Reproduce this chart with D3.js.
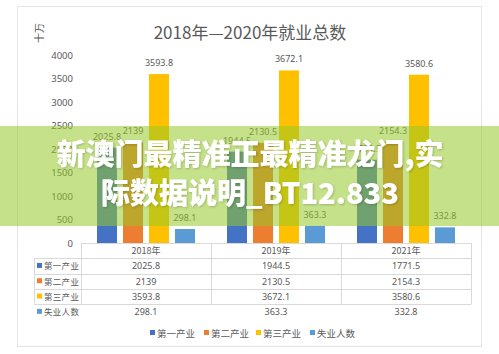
<!DOCTYPE html>
<html>
<head>
<meta charset="utf-8">
<script src="https://cdn.jsdelivr.net/npm/d3@7"></script>
<style>
  html, body { margin: 0; padding: 0; background: #fff; }
  svg { display: block; font-family: "Noto Sans CJK SC", "Noto Sans", sans-serif; }
</style>
</head>
<body>
<div id="chart"></div>
<script>
const years = ["2018年", "2019年", "2021年"];
const seriesNames = ["第一产业", "第二产业", "第三产业", "失业人数"];
const primaryInd = [2025.8, 1944.5, 1771.5];
const secondaryInd = [2139, 2130.5, 2154.3];
const tertiaryInd = [3593.8, 3672.1, 3580.6];
const unemployed = [298.1, 363.3, 332.8];
const yTicks = [0, 500, 1000, 1500, 2000, 2500, 3000, 3500, 4000];
const bannerLines = ["新澳门最精准正最精准龙门,实", "际数据说明_BT12.833"];

(() => {
    const width = 499, height = 354;
    const colors = ["#4472c4", "#ed7d31", "#ffc000", "#5b9bd5"];
    const seriesValues = [primaryInd, secondaryInd, tertiaryInd, unemployed];
    const textColor = "#595959", lineColor = "#d9d9d9";

    const svg = d3.select("#chart").append("svg")
        .attr("width", width)
        .attr("height", height);

    // chart frame
    svg.append("rect")
        .attr("x", 17.5).attr("y", 6.5)
        .attr("width", 464).attr("height", 340)
        .attr("fill", "#fff")
        .attr("stroke", "#e3e3e3");

    svg.append("text")
        .attr("x", 250).attr("y", 39)
        .attr("text-anchor", "middle")
        .style("font-size", "17px")
        .style("fill", textColor)
        .text("2018年—2020年就业总数");

    svg.append("text")
        .attr("transform", "translate(43,33) rotate(-90)")
        .attr("text-anchor", "middle")
        .style("font-size", "10px")
        .style("fill", textColor)
        .text("十万");

    const x = d3.scaleBand().domain(years).range([81, 471]).padding(0);
    const xs = d3.scaleBand().domain(seriesNames).range([0, 98]).paddingInner(0.23);
    const y = d3.scaleLinear().domain([0, 4000]).range([243, 55]);

    const yAxis = svg.append("g")
        .attr("transform", "translate(73,0)")
        .call(d3.axisLeft(y).tickValues(yTicks).tickFormat(d3.format("d")).tickSize(0).tickPadding(0));
    yAxis.select(".domain").remove();
    yAxis.selectAll("text")
        .style("font-size", "9.5px")
        .style("fill", textColor)
        .style("font-family", "'Noto Sans', sans-serif");

    const rows = years.map((yr, i) => ({
        year: yr,
        vals: seriesNames.map((s, j) => ({ name: s, value: seriesValues[j][i], color: colors[j] }))
    }));

    const groups = svg.selectAll(".grp")
        .data(rows)
        .enter().append("g")
        .attr("class", "grp")
        .attr("transform", d => `translate(${x(d.year) + x.bandwidth() / 2 - 49},0)`);

    groups.selectAll("rect")
        .data(d => d.vals)
        .enter().append("rect")
        .attr("x", d => xs(d.name))
        .attr("y", d => y(d.value))
        .attr("width", xs.bandwidth())
        .attr("height", d => y(0) - y(d.value))
        .attr("fill", d => d.color);

    groups.selectAll(".lbl")
        .data(d => d.vals)
        .enter().append("text")
        .attr("class", "lbl")
        .attr("x", d => xs(d.name) + xs.bandwidth() / 2)
        .attr("y", d => y(d.value) - 8)
        .attr("text-anchor", "middle")
        .style("font-size", "9px")
        .style("fill", textColor)
        .style("font-family", "'Noto Sans', sans-serif")
        .text(d => String(d.value));

    // data table
    const rowH = 15.3, top = 243;
    const tbl = svg.append("g");
    tbl.append("line")
        .attr("x1", 81).attr("x2", 471)
        .attr("y1", top + 0.5).attr("y2", top + 0.5)
        .attr("stroke", lineColor);
    for (let r = 1; r <= seriesNames.length; r++) {
        const yy = Math.round(top + r * rowH) + 0.5;
        tbl.append("line")
            .attr("x1", 34).attr("x2", 471)
            .attr("y1", yy).attr("y2", yy)
            .attr("stroke", lineColor);
    }
    const bottom = Math.round(top + seriesNames.length * rowH) + 0.5;
    [81, 211, 341, 471].forEach(cx => {
        tbl.append("line")
            .attr("x1", cx + 0.5).attr("x2", cx + 0.5)
            .attr("y1", top).attr("y2", bottom)
            .attr("stroke", lineColor);
    });
    tbl.append("line")
        .attr("x1", 34.5).attr("x2", 34.5)
        .attr("y1", Math.round(top + rowH) + 0.5).attr("y2", bottom)
        .attr("stroke", lineColor);

    tbl.selectAll(".hdr")
        .data(years)
        .enter().append("text")
        .attr("x", d => x(d) + x.bandwidth() / 2)
        .attr("y", top + rowH / 2 + 3.5)
        .attr("text-anchor", "middle")
        .style("font-size", "9px")
        .style("fill", textColor)
        .text(d => d);

    seriesNames.forEach((s, j) => {
        const cy = top + (j + 1) * rowH + rowH / 2;
        tbl.append("rect")
            .attr("x", 37).attr("y", cy - 3)
            .attr("width", 5).attr("height", 5)
            .attr("fill", colors[j]);
        tbl.append("text")
            .attr("x", 44).attr("y", cy + 3.5)
            .style("font-size", "8.5px")
            .style("letter-spacing", "0.3px")
            .style("fill", textColor)
            .text(s);
        years.forEach((yr, i) => {
            tbl.append("text")
                .attr("x", x(yr) + x.bandwidth() / 2)
                .attr("y", cy + 3.5)
                .attr("text-anchor", "middle")
                .style("font-size", "9px")
                .style("fill", textColor)
                .style("font-family", "'Noto Sans', sans-serif")
                .text(String(seriesValues[j][i]));
        });
    });

    // legend
    const legendX = [150, 204, 256, 310];
    const legend = svg.selectAll(".leg")
        .data(seriesNames)
        .enter().append("g")
        .attr("transform", (d, i) => `translate(${legendX[i]},333)`);
    legend.append("rect")
        .attr("x", 0).attr("y", -3)
        .attr("width", 5).attr("height", 5)
        .attr("fill", (d, i) => colors[i]);
    legend.append("text")
        .attr("x", 7).attr("y", 3.5)
        .style("font-size", "9.5px")
        .style("fill", textColor)
        .text(d => d);

    // overlay banner
    const defs = svg.append("defs");
    const f = defs.append("filter").attr("id", "sh").attr("x", "-10%").attr("y", "-30%").attr("width", "120%").attr("height", "160%");
    f.append("feDropShadow").attr("dx", 1).attr("dy", 1).attr("stdDeviation", 1)
        .attr("flood-color", "#000").attr("flood-opacity", 0.2);

    svg.append("rect")
        .attr("x", 0).attr("y", 126)
        .attr("width", width).attr("height", 100)
        .attr("fill", "rgb(150,200,40)")
        .attr("opacity", 0.55);

    svg.selectAll(".ban")
        .data(bannerLines)
        .enter().append("text")
        .attr("x", 250)
        .attr("y", (d, i) => 165 + i * 39)
        .attr("text-anchor", "middle")
        .attr("filter", "url(#sh)")
        .style("font-size", "29px")
        .style("font-weight", 800)
        .style("fill", "#fff")
        .text(d => d);
})();
</script>
</body>
</html>
